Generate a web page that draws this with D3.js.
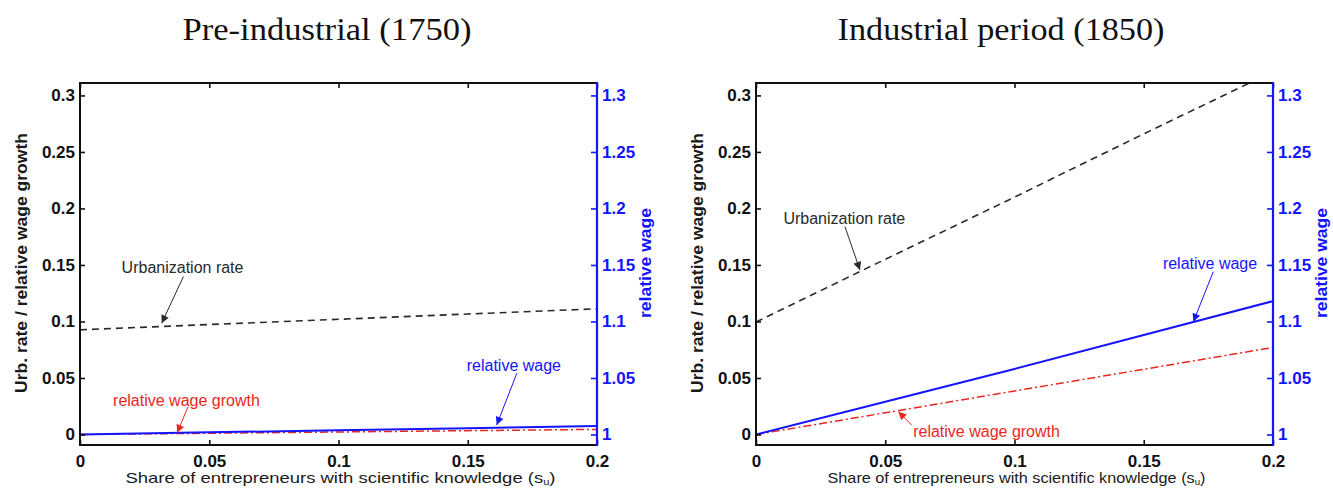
<!DOCTYPE html>
<html>
<head>
<meta charset="utf-8">
<script src="https://cdn.jsdelivr.net/npm/d3@7/dist/d3.min.js"></script>
<style>
  html, body { margin: 0; padding: 0; background: #fff; }
  svg { display: block; }
  text { font-family: "Liberation Sans", Arial, sans-serif; }
</style>
</head>
<body>
<svg id="chart" width="1333" height="489"></svg>
<script>
// Share of entrepreneurs with scientific knowledge (x values)
const shareValues = [0, 0.05, 0.1, 0.15, 0.2];

// Pre-industrial (1750)
const preUrbanization = [0.0926, 0.0973, 0.1019, 0.1066, 0.1112];
const preRelWageGrowth = [0, 0.0011, 0.0022, 0.0034, 0.0045];
const preRelWage = [1.0, 1.0019, 1.0037, 1.0056, 1.0075];

// Industrial period (1850)
const indUrbanization = [0.0995, 0.155, 0.21, 0.266, 0.321];
const indRelWageGrowth = [0, 0.0192, 0.0385, 0.0577, 0.077];
const indRelWage = [1.0, 1.029, 1.058, 1.088, 1.118];

// Tick values
const xTickValues = [0, 0.05, 0.1, 0.15, 0.2];
const leftTickValues = [0, 0.05, 0.1, 0.15, 0.2, 0.25, 0.3];
const rightTickValues = [1, 1.05, 1.1, 1.15, 1.2, 1.25, 1.3];

// Panel titles and axis labels
const panelTitles = ["Pre-industrial (1750)", "Industrial period (1850)"];
const xLabel = "Share of entrepreneurs with scientific knowledge (s";
const xLabelSub = "u";
const leftYLabel = "Urb. rate / relative wage growth";
const rightYLabel = "relative wage";

// Annotation labels, in data units of the left axis: [text x, text y, arrow tail x, tail y, head x, head y]
const preNotes = [
  { text: "Urbanization rate", kind: "urban", at: [0.0161, 0.147, 0.040, 0.1397, 0.0316, 0.0984] },
  { text: "relative wage growth", kind: "growth", at: [0.0128, 0.029, 0.0418, 0.0246, 0.0376, 0.0015] },
  { text: "relative wage", kind: "wage", at: [0.1496, 0.060, 0.169, 0.0542, 0.1612, 0.0084] }
];
const indNotes = [
  { text: "Urbanization rate", kind: "urban", at: [0.0106, 0.1898, 0.0344, 0.1839, 0.0402, 0.1456] },
  { text: "relative wage growth", kind: "growth", at: [0.0608, 0.0011, 0.0602, 0.0084, 0.0551, 0.0202] },
  { text: "relative wage", kind: "wage", at: [0.1574, 0.150, 0.1769, 0.1441, 0.1692, 0.0998] }
];

const colors = { urban: "#2a2a2a", growth: "#e8281e", wage: "#1414ff" };

const svg = d3.select("#chart");
const defs = svg.append("defs");
Object.entries(colors).forEach(([k, c]) => {
  defs.append("marker")
    .attr("id", "head-" + k)
    .attr("viewBox", "0 0 10 10")
    .attr("refX", 10).attr("refY", 5)
    .attr("markerWidth", 9).attr("markerHeight", 8)
    .attr("markerUnits", "userSpaceOnUse")
    .attr("orient", "auto")
    .append("path").attr("d", "M0,0 L10,5 L0,10 Z").attr("fill", c);
});

const W = 517, H = 362, TOP = 83;

const panels = [
  { left: 80, title: panelTitles[0], titleX: 327, titleLen: 289, urban: preUrbanization, growth: preRelWageGrowth, wage: preRelWage, notes: preNotes, xLabelLen: 430 },
  { left: 756, title: panelTitles[1], titleX: 1001, titleLen: 327, urban: indUrbanization, growth: indRelWageGrowth, wage: indRelWage, notes: indNotes, xLabelLen: 378 }
];

panels.forEach((p, i) => {
  const g = svg.append("g").attr("transform", `translate(${p.left},${TOP})`);
  const x = d3.scaleLinear().domain([0, 0.2]).range([0, W]);
  const yL = d3.scaleLinear().domain([-0.0093, 0.311]).range([H, 0]);
  const yR = d3.scaleLinear().domain([0.9907, 1.311]).range([H, 0]);
  const fmt = d3.format("~g");

  // Title
  svg.append("text")
    .attr("x", p.titleX).attr("y", 40)
    .attr("text-anchor", "middle")
    .style("font-family", "'Liberation Serif', 'DejaVu Serif', serif")
    .style("font-size", "31px")
    .attr("textLength", p.titleLen).attr("lengthAdjust", "spacingAndGlyphs")
    .attr("fill", "#111")
    .text(p.title);

  const clipId = "clip" + i;
  defs.append("clipPath").attr("id", clipId)
    .append("rect").attr("x", 0).attr("y", 0).attr("width", W).attr("height", H);

  // Series
  const plot = g.append("g").attr("clip-path", `url(#${clipId})`);
  const lineL = (vals) => d3.line().x((d, j) => x(shareValues[j])).y(d => yL(d))(vals);
  const lineR = (vals) => d3.line().x((d, j) => x(shareValues[j])).y(d => yR(d))(vals);

  plot.append("path").attr("d", lineL(p.urban))
    .attr("fill", "none").attr("stroke", colors.urban).attr("stroke-width", 1.6)
    .attr("stroke-dasharray", "7,5");
  plot.append("path").attr("d", lineL(p.growth))
    .attr("fill", "none").attr("stroke", colors.growth).attr("stroke-width", 1.5)
    .attr("stroke-dasharray", "8,3,2,3");
  plot.append("path").attr("d", lineR(p.wage))
    .attr("fill", "none").attr("stroke", colors.wage).attr("stroke-width", 2);

  // Axes with inward ticks
  const axisStyle = (sel, color) => {
    sel.select(".domain").remove();
    sel.selectAll(".tick line").attr("stroke", color).attr("stroke-width", 1.6);
    sel.selectAll(".tick text")
      .attr("fill", color)
      .style("font-size", "17px").style("font-weight", "bold")
      .style("font-family", "'Liberation Sans', Arial, sans-serif");
  };

  g.append("g").attr("transform", `translate(0,${H})`)
    .call(d3.axisBottom(x).tickValues(xTickValues).tickSize(-5).tickPadding(10).tickFormat(fmt))
    .call(s => axisStyle(s, "#111"));
  g.append("g")
    .call(d3.axisTop(x).tickValues(xTickValues).tickSize(-5).tickFormat(""))
    .call(s => axisStyle(s, "#111"));
  g.append("g")
    .call(d3.axisLeft(yL).tickValues(leftTickValues).tickSize(-5).tickPadding(5).tickFormat(fmt))
    .call(s => axisStyle(s, "#111"));

  // Box
  g.append("rect").attr("x", 0).attr("y", 0).attr("width", W).attr("height", H)
    .attr("fill", "none").attr("stroke", "#111").attr("stroke-width", 2);

  g.append("g").attr("transform", `translate(${W},0)`)
    .call(d3.axisRight(yR).tickValues(rightTickValues).tickSize(-6).tickPadding(5).tickFormat(fmt))
    .call(s => axisStyle(s, colors.wage));
  g.append("line").attr("x1", W).attr("x2", W).attr("y1", -1).attr("y2", H + 1)
    .attr("stroke", colors.wage).attr("stroke-width", 2.2);

  // Axis labels
  const xl = g.append("text")
    .attr("x", W / 2 + 2).attr("y", H + 38)
    .attr("text-anchor", "middle")
    .attr("fill", "#1a1a1a")
    .style("font-size", "15px")
    .attr("textLength", p.xLabelLen).attr("lengthAdjust", "spacingAndGlyphs");
  xl.append("tspan").text(xLabel);
  xl.append("tspan").attr("dy", 2).style("font-size", "9px").text(xLabelSub);
  xl.append("tspan").attr("dy", -2).text(")");

  g.append("text")
    .attr("transform", `translate(${-53},${H / 2 - 1}) rotate(-90)`)
    .attr("text-anchor", "middle")
    .attr("fill", "#1a1a1a")
    .style("font-size", "17px").style("font-weight", "bold")
    .attr("textLength", 260).attr("lengthAdjust", "spacingAndGlyphs")
    .text(leftYLabel);

  g.append("text")
    .attr("transform", `translate(${W + 54},${H / 2 - 1}) rotate(-90)`)
    .attr("text-anchor", "middle")
    .attr("fill", colors.wage)
    .style("font-size", "16px").style("font-weight", "bold")
    .attr("textLength", 110).attr("lengthAdjust", "spacingAndGlyphs")
    .text(rightYLabel);

  // Annotations
  p.notes.forEach(n => {
    const [tx, ty, ax, ay, hx, hy] = n.at;
    g.append("line")
      .attr("x1", x(ax)).attr("y1", yL(ay))
      .attr("x2", x(hx)).attr("y2", yL(hy))
      .attr("stroke", colors[n.kind]).attr("stroke-width", 1)
      .attr("marker-end", `url(#head-${n.kind})`);
    g.append("text")
      .attr("x", x(tx)).attr("y", yL(ty))
      .attr("dominant-baseline", "middle")
      .attr("fill", colors[n.kind])
      .style("font-size", "16px")
      .text(n.text);
  });
});
</script>
</body>
</html>
